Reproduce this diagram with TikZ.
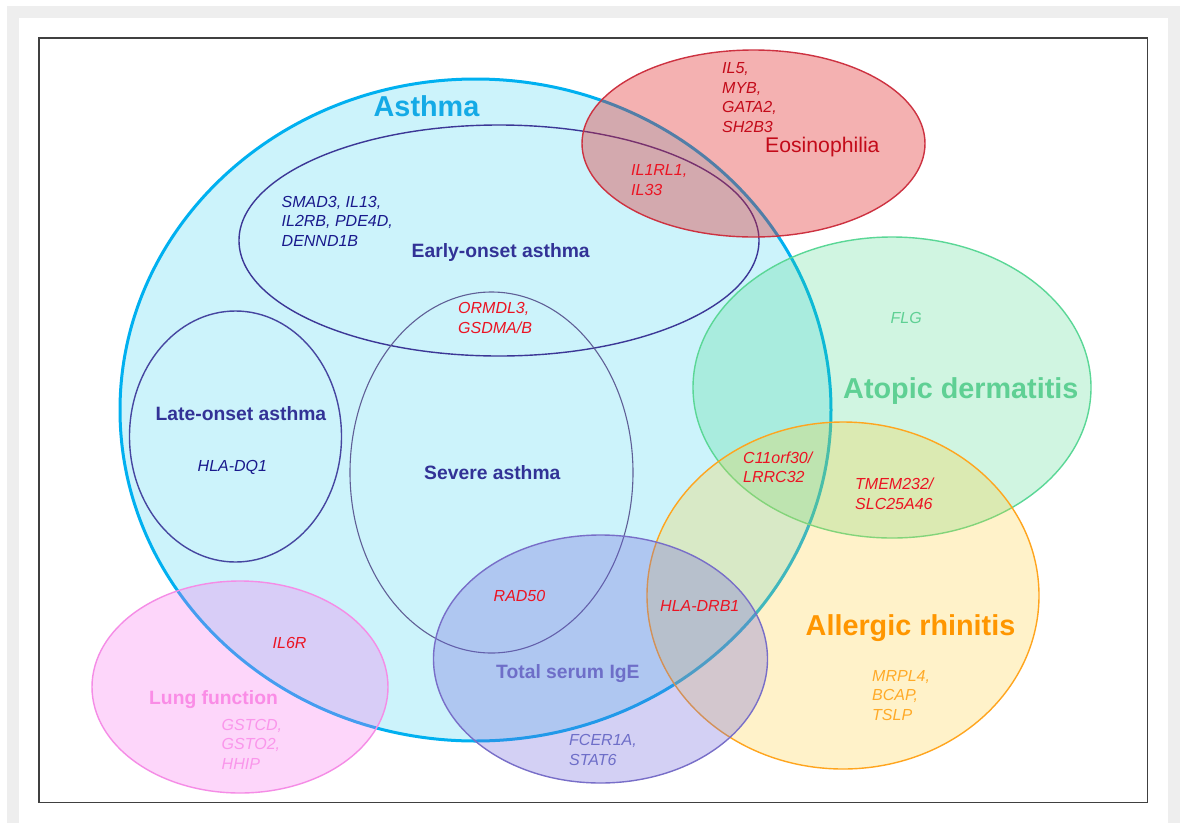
\documentclass[tikz,border=0pt]{standalone}
\usepackage{fontspec}
\setmainfont{Liberation Sans}
\definecolor{framegray}{RGB}{238,238,238}
\definecolor{asthmaFill}{RGB}{0,195,235}
\definecolor{eosFill}{RGB}{225,40,40}
\definecolor{atopicFill}{RGB}{60,215,130}
\definecolor{allergicFill}{RGB}{255,205,40}
\definecolor{igeFill}{RGB}{110,100,220}
\definecolor{lungFill}{RGB}{250,110,240}
\definecolor{asthmaLine}{RGB}{0,176,240}
\definecolor{earlyLine}{RGB}{60,55,150}
\definecolor{lateLine}{RGB}{70,70,160}
\definecolor{severeLine}{RGB}{95,95,150}
\definecolor{eosLine}{RGB}{205,50,65}
\definecolor{atopicLine}{RGB}{90,215,150}
\definecolor{allergicLine}{RGB}{255,165,30}
\definecolor{igeLine}{RGB}{120,110,200}
\definecolor{lungLine}{RGB}{245,140,230}
\definecolor{asthmaText}{RGB}{20,170,230}
\definecolor{navyText}{RGB}{25,25,140}
\definecolor{labelBlue}{RGB}{50,50,150}
\definecolor{geneRed}{RGB}{235,20,35}
\definecolor{darkRed}{RGB}{195,10,25}
\definecolor{atopicText}{RGB}{95,208,148}
\definecolor{allergicText}{RGB}{255,150,0}
\definecolor{allergicGene}{RGB}{255,170,40}
\definecolor{igeText}{RGB}{110,110,200}
\definecolor{lungText}{RGB}{250,140,230}
\definecolor{lungGene}{RGB}{250,150,235}
\begin{document}
\begin{tikzpicture}[x=1pt,y=-1pt,
  gene/.style={font=\fontsize{16}{19.5}\selectfont\itshape, inner sep=0pt, align=left, anchor=base west},
  lab/.style={font=\fontsize{19.3}{22}\selectfont\bfseries, inner sep=0pt, anchor=base west},
  big/.style={font=\fontsize{28.8}{34}\selectfont\bfseries, inner sep=0pt, anchor=base west},
  setline/.style={line width=1.4pt}]
\useasboundingbox (0,0) rectangle (1187,823);
\fill[white] (0,0) rectangle (1187,823);
\fill[framegray] (7,6) rectangle (1180,823);
\fill[white] (19,18) rectangle (1168,823);
\draw[line width=1.6pt, black!75] (39,38) rectangle (1147.5,802.5);

% sets
\path[fill=asthmaFill, fill opacity=0.2, draw=asthmaLine, line width=3pt]
  (475.5,410) ellipse [x radius=355.5pt, y radius=331pt];
\draw[setline, draw=earlyLine] (499,240.5) ellipse [x radius=260pt, y radius=115.5pt];
\draw[setline, draw=lateLine] (235.5,436.5) ellipse [x radius=106pt, y radius=125.5pt];
\draw[line width=1.1pt, draw=severeLine] (491.5,472.5) ellipse [x radius=141.5pt, y radius=180.5pt];
\path[setline, fill=eosFill, fill opacity=0.36, draw=eosLine]
  (753.5,143.5) ellipse [x radius=171.5pt, y radius=93.5pt];
\path[setline, fill=atopicFill, fill opacity=0.24, draw=atopicLine]
  (892,387.5) ellipse [x radius=199pt, y radius=150.5pt];
\path[setline, fill=allergicFill, fill opacity=0.25, draw=allergicLine]
  (843,595.5) ellipse [x radius=196pt, y radius=173.5pt];
\path[setline, fill=igeFill, fill opacity=0.3, draw=igeLine]
  (600.5,659) ellipse [x radius=167pt, y radius=124pt];
\path[setline, fill=lungFill, fill opacity=0.28, draw=lungLine]
  (240,687) ellipse [x radius=148pt, y radius=106pt];

% set labels
\node[big, text=asthmaText] (asthma) at (373.5,116) {Asthma};
\node[font=\fontsize{21.2}{24}\selectfont, inner sep=0pt, anchor=base west, text=darkRed] (eos) at (765,152.5) {Eosinophilia};
\node[lab, text=labelBlue] (early) at (411.5,257) {Early-onset asthma};
\node[lab, text=labelBlue] (late) at (155.5,420) {Late-onset asthma};
\node[lab, text=labelBlue] (severe) at (424,479.5) {Severe asthma};
\node[big, text=atopicText] (atopic) at (843,398.5) {Atopic dermatitis};
\node[big, text=allergicText] (allergic) at (805.5,635) {Allergic rhinitis};
\node[lab, text=igeText] (ige) at (496,678.5) {Total serum IgE};
\node[lab, text=lungText] (lung) at (149,704) {Lung function};

% genes (anchor = baseline of the last line)
\node[gene, text=darkRed] (geos) at (722,132) {IL5,\\MYB,\\GATA2,\\SH2B3};
\node[gene, text=geneRed] (gil1) at (631,195) {IL1RL1,\\IL33};
\node[gene, text=navyText] (gsmad) at (281.5,246) {SMAD3, IL13,\\IL2RB, PDE4D,\\DENND1B};
\node[gene, text=geneRed] (gorm) at (458,333) {ORMDL3,\\GSDMA/B};
\node[gene, text=navyText] (ghla) at (197.5,471.5) {HLA-DQ1};
\node[gene, text=atopicText] (gflg) at (890.5,323.5) {FLG};
\node[gene, text=geneRed] (gc11) at (743,482.7) {C11orf30/\\LRRC32};
\node[gene, text=geneRed] (gtmem) at (855,509.3) {TMEM232/\\SLC25A46};
\node[gene, text=geneRed] (grad) at (493.5,601.5) {RAD50};
\node[gene, text=geneRed] (gdrb) at (660,611.5) {HLA-DRB1};
\node[gene, text=geneRed] (gil6) at (272.5,648) {IL6R};
\node[gene, text=lungGene] (gst) at (221.5,769) {GSTCD,\\GSTO2,\\HHIP};
\node[gene, text=igeText] (gfc) at (569,765) {FCER1A,\\STAT6};
\node[gene, text=allergicGene] (gmr) at (872,720) {MRPL4,\\BCAP,\\TSLP};
\end{tikzpicture}
\end{document}
